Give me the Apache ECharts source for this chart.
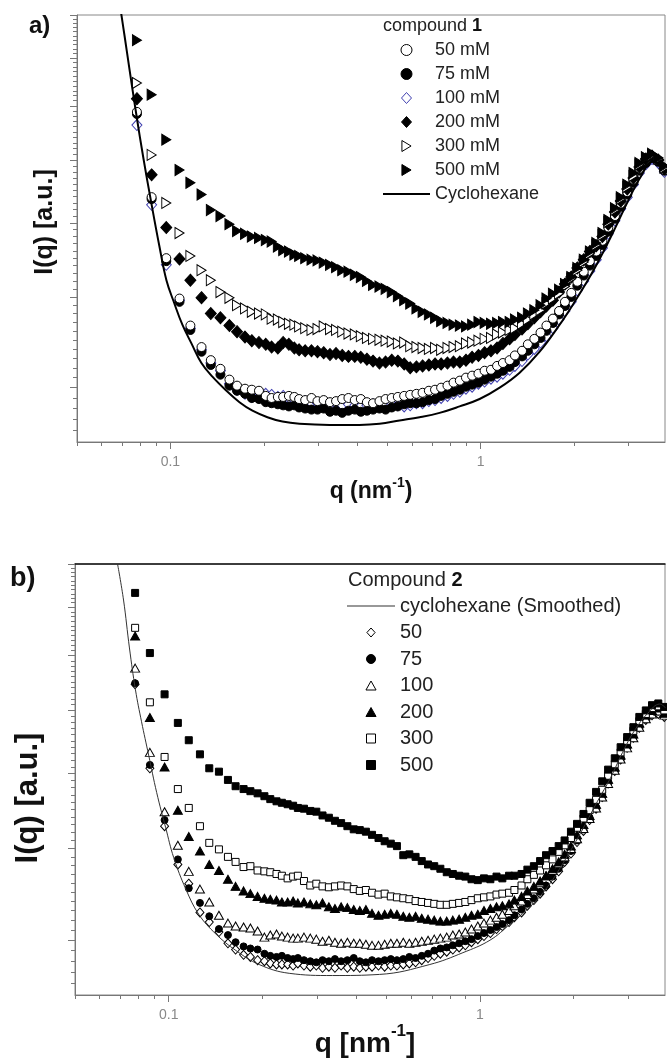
<!DOCTYPE html>
<html>
<head>
<meta charset="utf-8">
<script src="https://cdn.jsdelivr.net/npm/echarts@6/dist/echarts.min.js"></script>
<style>
html, body { margin: 0; padding: 0; background: #fff; }
#chart { width: 667px; height: 1061px; }
</style>
</head>
<body>
<div id="chart"></div>
<script>
// q grid shared by all measured curves (nm^-1)
var qGrid = [0.078, 0.087, 0.097, 0.107, 0.116, 0.126, 0.135, 0.145, 0.155, 0.164, 0.174, 0.183, 0.193, 0.203, 0.212, 0.222, 0.231, 0.241, 0.251, 0.26,
  0.272, 0.285, 0.298, 0.312, 0.327, 0.342, 0.358, 0.375, 0.393, 0.411, 0.43, 0.45, 0.472, 0.494, 0.517, 0.541, 0.567, 0.593, 0.621, 0.65,
  0.681, 0.713, 0.746, 0.782, 0.818, 0.857, 0.897, 0.939, 0.984, 1.03, 1.08, 1.13, 1.18, 1.24, 1.29, 1.36, 1.42, 1.49, 1.56, 1.63,
  1.71, 1.79, 1.87, 1.96, 2.05, 2.15, 2.25, 2.36, 2.47, 2.58, 2.71, 2.83, 2.97, 3.11, 3.25, 3.41, 3.57, 3.74, 3.91];

// panel a : compound 1
var a50 = [7.88, 6.39, 5.50, 4.98, 4.66, 4.42, 4.28, 4.19, 4.08, 4.02, 3.99, 3.98, 3.97, 3.92, 3.90, 3.91, 3.91, 3.92, 3.91, 3.89,
  3.88, 3.90, 3.87, 3.88, 3.86, 3.87, 3.89, 3.90, 3.88, 3.89, 3.86, 3.85, 3.87, 3.89, 3.90, 3.91, 3.92, 3.93, 3.94, 3.95,
  3.97, 3.98, 4.00, 4.02, 4.05, 4.07, 4.10, 4.12, 4.14, 4.17, 4.18, 4.22, 4.25, 4.28, 4.33, 4.38, 4.45, 4.51, 4.58, 4.66,
  4.74, 4.83, 4.94, 5.05, 5.19, 5.32, 5.46, 5.59, 5.74, 5.93, 6.10, 6.29, 6.47, 6.67, 6.85, 6.99, 7.05, 6.99, 6.83];
var a75 = [7.84, 6.36, 5.46, 4.94, 4.61, 4.37, 4.23, 4.13, 4.02, 3.97, 3.94, 3.90, 3.89, 3.86, 3.85, 3.84, 3.83, 3.82, 3.83, 3.81,
  3.80, 3.79, 3.79, 3.80, 3.77, 3.78, 3.76, 3.78, 3.79, 3.77, 3.78, 3.79, 3.80, 3.79, 3.81, 3.82, 3.84, 3.85, 3.85, 3.86,
  3.88, 3.89, 3.92, 3.94, 3.96, 3.98, 4.01, 4.03, 4.05, 4.08, 4.11, 4.14, 4.17, 4.21, 4.26, 4.32, 4.38, 4.45, 4.52, 4.60,
  4.69, 4.79, 4.89, 5.00, 5.14, 5.27, 5.40, 5.53, 5.68, 5.87, 6.06, 6.24, 6.43, 6.62, 6.82, 6.95, 7.04, 6.97, 6.82];
var a100 = [7.63, 6.27, 5.41, 4.96, 4.63, 4.39, 4.25, 4.17, 4.04, 3.98, 3.94, 3.91, 3.92, 3.94, 3.93, 3.91, 3.92, 3.90, 3.88, 3.86,
  3.87, 3.85, 3.85, 3.86, 3.84, 3.85, 3.83, 3.84, 3.83, 3.82, 3.83, 3.84, 3.82, 3.83, 3.84, 3.83, 3.82, 3.83, 3.85, 3.85,
  3.87, 3.88, 3.90, 3.92, 3.94, 3.96, 3.99, 4.01, 4.04, 4.06, 4.09, 4.11, 4.14, 4.18, 4.22, 4.27, 4.34, 4.40, 4.47, 4.54,
  4.63, 4.73, 4.83, 4.94, 5.08, 5.20, 5.33, 5.48, 5.64, 5.84, 6.03, 6.21, 6.39, 6.59, 6.78, 6.93, 7.02, 6.95, 6.80];
var a200 = [8.14, 6.75, 5.93, 5.49, 5.21, 4.99, 4.80, 4.75, 4.66, 4.59, 4.53, 4.49, 4.47, 4.45, 4.42, 4.41, 4.47, 4.45, 4.41, 4.39,
  4.38, 4.38, 4.37, 4.36, 4.34, 4.35, 4.33, 4.32, 4.32, 4.31, 4.29, 4.27, 4.25, 4.26, 4.28, 4.27, 4.24, 4.20, 4.21, 4.22,
  4.23, 4.24, 4.24, 4.25, 4.26, 4.26, 4.28, 4.31, 4.33, 4.36, 4.38, 4.41, 4.46, 4.51, 4.56, 4.62, 4.68, 4.75, 4.82, 4.89,
  4.96, 5.06, 5.16, 5.25, 5.37, 5.48, 5.59, 5.67, 5.80, 5.98, 6.16, 6.33, 6.52, 6.70, 6.88, 7.02, 7.07, 7.00, 6.85];
var a300 = [8.46, 7.09, 6.30, 5.85, 5.53, 5.34, 5.21, 5.06, 4.99, 4.90, 4.86, 4.82, 4.80, 4.79, 4.74, 4.73, 4.70, 4.68, 4.67, 4.65,
  4.63, 4.61, 4.62, 4.65, 4.62, 4.61, 4.59, 4.57, 4.56, 4.54, 4.52, 4.51, 4.50, 4.49, 4.48, 4.46, 4.47, 4.43, 4.42, 4.41,
  4.40, 4.41, 4.39, 4.41, 4.42, 4.43, 4.46, 4.47, 4.49, 4.51, 4.52, 4.56, 4.58, 4.61, 4.63, 4.68, 4.73, 4.79, 4.84, 4.92,
  4.98, 5.04, 5.13, 5.23, 5.34, 5.45, 5.56, 5.68, 5.82, 6.01, 6.19, 6.36, 6.55, 6.73, 6.92, 7.04, 7.09, 7.02, 6.87];
var a500 = [9.40, 8.22, 7.36, 6.83, 6.62, 6.43, 6.19, 6.10, 5.98, 5.88, 5.84, 5.80, 5.78, 5.75, 5.73, 5.66, 5.61, 5.59, 5.55, 5.53,
  5.50, 5.48, 5.47, 5.44, 5.41, 5.38, 5.34, 5.32, 5.28, 5.25, 5.20, 5.15, 5.13, 5.10, 5.06, 5.01, 4.96, 4.92, 4.86, 4.82,
  4.79, 4.75, 4.71, 4.69, 4.67, 4.66, 4.65, 4.67, 4.70, 4.69, 4.68, 4.69, 4.70, 4.70, 4.73, 4.75, 4.80, 4.84, 4.90, 4.98,
  5.04, 5.09, 5.16, 5.25, 5.37, 5.48, 5.59, 5.71, 5.85, 6.04, 6.22, 6.39, 6.59, 6.78, 6.95, 7.05, 7.11, 7.04, 6.90];
var qLineA = [0.069, 0.0711, 0.0737, 0.0777, 0.0818, 0.0868, 0.0922, 0.0971, 0.103, 0.1093, 0.1169, 0.1259, 0.1366, 0.1516, 0.167, 0.1839,
  0.2055, 0.2298, 0.2607, 0.326, 0.407, 0.4723, 0.548, 0.6357, 0.7375, 0.8556, 0.9926, 1.152, 1.336, 1.55, 1.798, 2.01,
  2.247, 2.475, 2.726, 2.98, 3.282, 3.587, 3.923];
var iLineA = [10.17, 9.52, 8.78, 7.82, 7.04, 6.30, 5.66, 5.21, 4.92, 4.67, 4.46, 4.25, 4.11, 3.97, 3.86, 3.78,
  3.72, 3.68, 3.66, 3.65, 3.65, 3.66, 3.69, 3.72, 3.76, 3.82, 3.89, 4.00, 4.15, 4.37, 4.67, 4.94,
  5.25, 5.57, 5.94, 6.32, 6.72, 6.97, 6.88];

// panel b : compound 2
var b50 = [7.46, 6.08, 5.28, 4.81, 4.59, 4.28, 4.18, 4.08, 3.97, 3.91, 3.86, 3.84, 3.81, 3.80, 3.78, 3.77, 3.77, 3.77, 3.76, 3.78,
  3.76, 3.75, 3.76, 3.74, 3.75, 3.74, 3.76, 3.74, 3.75, 3.74, 3.75, 3.75, 3.76, 3.75, 3.76, 3.76, 3.77, 3.78, 3.79, 3.81,
  3.83, 3.85, 3.87, 3.89, 3.91, 3.93, 3.95, 3.98, 4.01, 4.04, 4.07, 4.11, 4.14, 4.18, 4.23, 4.28, 4.35, 4.41, 4.48, 4.56,
  4.64, 4.73, 4.84, 4.94, 5.08, 5.22, 5.36, 5.51, 5.67, 5.86, 6.04, 6.21, 6.39, 6.55, 6.71, 6.84, 6.92, 6.94, 6.89];
var b75 = [7.48, 6.13, 5.36, 4.87, 4.54, 4.38, 4.24, 4.11, 4.05, 3.98, 3.94, 3.92, 3.91, 3.87, 3.85, 3.84, 3.85, 3.83, 3.82, 3.83,
  3.81, 3.80, 3.79, 3.81, 3.80, 3.82, 3.80, 3.81, 3.83, 3.80, 3.79, 3.81, 3.80, 3.81, 3.82, 3.81, 3.82, 3.84, 3.83, 3.85,
  3.87, 3.90, 3.92, 3.93, 3.95, 3.97, 3.99, 4.01, 4.04, 4.07, 4.10, 4.13, 4.16, 4.20, 4.25, 4.31, 4.37, 4.43, 4.50, 4.57,
  4.67, 4.76, 4.86, 4.97, 5.10, 5.24, 5.39, 5.53, 5.70, 5.89, 6.06, 6.25, 6.42, 6.58, 6.74, 6.88, 6.94, 6.98, 6.92];
var b100 = [7.76, 6.32, 5.47, 5.04, 4.73, 4.53, 4.39, 4.25, 4.17, 4.14, 4.13, 4.12, 4.09, 4.03, 4.05, 4.06, 4.04, 4.03, 4.02, 4.02,
  4.03, 4.02, 4.01, 3.99, 4.00, 3.98, 3.97, 3.98, 3.97, 3.97, 3.96, 3.95, 3.95, 3.96, 3.97, 3.97, 3.98, 3.97, 3.98, 3.99,
  4.00, 4.01, 4.02, 4.03, 4.05, 4.06, 4.08, 4.11, 4.14, 4.17, 4.20, 4.23, 4.26, 4.30, 4.35, 4.40, 4.47, 4.53, 4.60, 4.68,
  4.74, 4.82, 4.90, 5.00, 5.12, 5.25, 5.38, 5.52, 5.67, 5.86, 6.05, 6.22, 6.39, 6.55, 6.72, 6.86, 6.94, 6.99, 6.92];
var b200 = [8.39, 6.88, 6.10, 5.49, 5.15, 4.97, 4.81, 4.74, 4.64, 4.56, 4.51, 4.48, 4.45, 4.43, 4.42, 4.41, 4.39, 4.39, 4.40, 4.38,
  4.39, 4.37, 4.36, 4.38, 4.34, 4.32, 4.34, 4.33, 4.31, 4.30, 4.31, 4.27, 4.25, 4.26, 4.27, 4.26, 4.24, 4.23, 4.24, 4.22,
  4.21, 4.20, 4.19, 4.19, 4.20, 4.21, 4.23, 4.25, 4.26, 4.30, 4.32, 4.34, 4.35, 4.37, 4.41, 4.45, 4.51, 4.56, 4.62, 4.68,
  4.76, 4.84, 4.93, 5.03, 5.17, 5.30, 5.42, 5.57, 5.72, 5.92, 6.10, 6.28, 6.45, 6.61, 6.79, 6.92, 7.00, 7.04, 6.95];
var b300 = [8.56, 7.14, 6.25, 5.78, 5.52, 5.28, 5.07, 4.99, 4.90, 4.84, 4.78, 4.79, 4.74, 4.73, 4.72, 4.70, 4.68, 4.65, 4.67, 4.68,
  4.62, 4.57, 4.59, 4.56, 4.55, 4.56, 4.57, 4.56, 4.53, 4.51, 4.52, 4.49, 4.47, 4.48, 4.45, 4.44, 4.43, 4.42, 4.40, 4.39,
  4.38, 4.37, 4.36, 4.36, 4.37, 4.38, 4.39, 4.41, 4.43, 4.44, 4.45, 4.47, 4.48, 4.49, 4.52, 4.57, 4.64, 4.69, 4.74, 4.80,
  4.87, 4.96, 5.04, 5.13, 5.26, 5.38, 5.49, 5.63, 5.77, 5.97, 6.14, 6.32, 6.50, 6.66, 6.82, 6.94, 7.04, 7.07, 7.00];
var b500 = [9.32, 8.05, 7.28, 6.79, 6.51, 6.29, 6.08, 6.03, 5.91, 5.82, 5.78, 5.75, 5.72, 5.68, 5.64, 5.61, 5.59, 5.57, 5.55, 5.52,
  5.51, 5.48, 5.47, 5.42, 5.39, 5.35, 5.32, 5.28, 5.24, 5.23, 5.21, 5.17, 5.13, 5.09, 5.06, 5.03, 4.92, 4.93, 4.90, 4.85,
  4.81, 4.79, 4.76, 4.72, 4.70, 4.68, 4.67, 4.64, 4.63, 4.65, 4.64, 4.67, 4.65, 4.68, 4.68, 4.70, 4.75, 4.79, 4.85, 4.92,
  4.97, 5.03, 5.10, 5.21, 5.31, 5.44, 5.59, 5.74, 5.89, 6.06, 6.23, 6.40, 6.56, 6.72, 6.89, 7.00, 7.09, 7.12, 7.06];
var qLineB = [0.0685, 0.0716, 0.0748, 0.0782, 0.0818, 0.0862, 0.0915, 0.0978, 0.1038, 0.1135, 0.1249, 0.1418, 0.1645, 0.1951, 0.2438, 0.3357,
  0.4758, 0.69, 0.8814, 1.077, 1.25, 1.45, 1.645, 1.852, 2.102, 2.385, 2.627, 2.871, 3.14, 3.457, 3.779, 3.953];
var iLineB = [10.0, 9.16, 8.15, 7.36, 6.81, 6.28, 5.73, 5.26, 4.89, 4.53, 4.26, 4.06, 3.90, 3.77, 3.69, 3.67,
  3.68, 3.77, 3.88, 4.00, 4.16, 4.34, 4.55, 4.83, 5.19, 5.61, 5.94, 6.32, 6.67, 6.95, 7.11, 7.04];

// ticks
var xMajorTicks = [0.1, 1];
var xMinorTicks = [0.05, 0.06, 0.07, 0.08, 0.09, 0.2, 0.3, 0.4, 0.5, 0.6, 0.7, 0.8, 0.9, 2, 3];
var yMajorTicks = [4, 5, 6, 7, 8, 9, 10];
var yMinorTicks = [];
for (var t = 36; t < 100; t++) { if (t % 10 !== 0) yMinorTicks.push(t / 10); }

var legendA = ['50 mM', '75 mM', '100 mM', '200 mM', '300 mM', '500 mM', 'Cyclohexane'];
var legendB = ['cyclohexane (Smoothed)', '50', '75', '100', '200', '300', '500'];

var FONT = '"Liberation Sans", Arial, sans-serif';
var RTRI = 'path://M0,0L10,6L0,12Z';
var DIAM = 'path://M5,0L10,5.5L5,11L0,5.5Z';
var UTRI = 'path://M4.5,0L9,8L0,8Z';
var SQR = 'path://M0,0H7V7H0Z';

function pairs(qs, vals) {
  return qs.map(function (q, i) { return [q, vals[i]]; });
}

function xAxisMajor(gi) {
  return {
    type: 'log', logBase: 10, gridIndex: gi, position: 'bottom', min: 0.05, max: 3.93,
    axisLine: { show: true, lineStyle: { color: '#777', width: 1 } },
    axisTick: { show: true, customValues: xMajorTicks, length: 7, lineStyle: { color: '#777' } },
    axisLabel: { show: true, customValues: xMajorTicks, margin: 13, color: '#888', fontSize: 14, fontFamily: FONT,
      formatter: function (v) { return String(v); } },
    splitLine: { show: false }
  };
}
function xAxisMinor(gi) {
  return {
    type: 'log', logBase: 10, gridIndex: gi, position: 'bottom', min: 0.05, max: 3.93,
    axisLine: { show: false },
    axisTick: { show: true, customValues: xMinorTicks, length: 4, lineStyle: { color: '#777' } },
    axisLabel: { show: false },
    splitLine: { show: false }
  };
}
function yAxisMajor(gi) {
  return {
    type: 'log', logBase: 10, gridIndex: gi, position: 'left', min: 3.5, max: 10,
    axisLine: { show: true, lineStyle: { color: '#777', width: 1 } },
    axisTick: { show: true, customValues: yMajorTicks, length: 7, lineStyle: { color: '#777' } },
    axisLabel: { show: false },
    splitLine: { show: false }
  };
}
function yAxisMinor(gi) {
  return {
    type: 'log', logBase: 10, gridIndex: gi, position: 'left', min: 3.5, max: 10,
    axisLine: { show: false },
    axisTick: { show: true, customValues: yMinorTicks, length: 4, lineStyle: { color: '#777' } },
    axisLabel: { show: false },
    splitLine: { show: false }
  };
}

function scatter(name, axis, vals, symbol, size, fill, stroke) {
  return {
    name: name, type: 'scatter', xAxisIndex: axis, yAxisIndex: axis,
    data: pairs(qGrid, vals), symbol: symbol, symbolSize: size,
    itemStyle: { color: fill, borderColor: stroke, borderWidth: 1, opacity: 1 },
    emphasis: { disabled: true }, silent: true
  };
}
function curve(name, axis, qs, vals, width, color) {
  return {
    name: name, type: 'line', xAxisIndex: axis, yAxisIndex: axis,
    data: pairs(qs, vals), smooth: 0.4, symbol: 'none', showSymbol: false,
    color: color, lineStyle: { color: color, width: width },
    emphasis: { disabled: true }, silent: true, clip: true
  };
}

var chart = echarts.init(document.getElementById('chart'));
var option = {
  animation: false,
  backgroundColor: '#fff',
  grid: [
    { left: 77, top: 15, width: 588, height: 427, show: true, borderColor: '#888', borderWidth: 1 },
    { left: 75, top: 564, width: 590, height: 431, show: true, borderColor: '#888', borderWidth: 1 }
  ],
  xAxis: [
    xAxisMajor(0), xAxisMinor(0), xAxisMajor(1), xAxisMinor(1),
    { type: 'log', gridIndex: 1, position: 'top', min: 0.05, max: 3.93,
      axisLine: { show: true, lineStyle: { color: '#111', width: 1.5 } },
      axisTick: { show: false }, axisLabel: { show: false }, splitLine: { show: false } }
  ],
  yAxis: [yAxisMajor(0), yAxisMinor(0), yAxisMajor(1), yAxisMinor(1)],
  legend: [
    {
      orient: 'vertical', left: 383, top: 41, padding: 0, itemWidth: 47, itemHeight: 11, itemGap: 6,
      selectedMode: false, itemStyle: { borderWidth: 1 }, symbolKeepAspect: true,
      textStyle: { fontSize: 18, lineHeight: 18, color: '#222', fontFamily: FONT },
      data: legendA.map(function (n) {
        return n === 'Cyclohexane' ? { name: n, icon: 'path://M0,0H48V2H0Z', itemStyle: { borderWidth: 0 } } : { name: n };
      })
    },
    {
      orient: 'vertical', left: 347, top: 596, padding: 0, itemWidth: 48, itemHeight: 9, itemGap: 6.5,
      selectedMode: false, itemStyle: { borderWidth: 1 }, symbolKeepAspect: true,
      textStyle: { fontSize: 20, lineHeight: 20, color: '#222', fontFamily: FONT },
      data: legendB.map(function (n) {
        return n === 'cyclohexane (Smoothed)' ? { name: n, icon: 'path://M0,0H48V1H0Z', itemStyle: { borderWidth: 0 } } : { name: n };
      })
    }
  ],
  graphic: [
    { type: 'text', left: 29, top: 14, style: { text: 'a)', fontSize: 24, fontWeight: 'bold', fontFamily: FONT, fill: '#111' } },
    { type: 'text', left: 10, top: 565, style: { text: 'b)', fontSize: 27, fontWeight: 'bold', fontFamily: FONT, fill: '#111' } },
    { type: 'text', left: 383, top: 17, style: { text: '{n|compound }{b|1}', rich: {
      n: { fontSize: 18, fontFamily: FONT, fill: '#222' },
      b: { fontSize: 18, fontWeight: 'bold', fontFamily: FONT, fill: '#111' } } } },
    { type: 'text', left: 348, top: 570, style: { text: '{n|Compound }{b|2}', rich: {
      n: { fontSize: 20, fontFamily: FONT, fill: '#222' },
      b: { fontSize: 20, fontWeight: 'bold', fontFamily: FONT, fill: '#111' } } } },
    { type: 'text', x: 45, y: 222, rotation: Math.PI / 2, style: { text: 'I(q) [a.u.]', fontSize: 25, fontWeight: 'bold',
      fontFamily: FONT, fill: '#111', align: 'center', verticalAlign: 'middle' } },
    { type: 'text', x: 28, y: 798, rotation: Math.PI / 2, style: { text: 'I(q) [a.u.]', fontSize: 31, fontWeight: 'bold',
      fontFamily: FONT, fill: '#111', align: 'center', verticalAlign: 'middle' } },
    { type: 'text', x: 371, y: 492, style: { text: '{n|q (nm}{s|-1}{n|)}', align: 'center', verticalAlign: 'middle', rich: {
      n: { fontSize: 23, fontWeight: 'bold', lineHeight: 32, fontFamily: FONT, fill: '#111' },
      s: { fontSize: 14, fontWeight: 'bold', lineHeight: 14, verticalAlign: 'top', fontFamily: FONT, fill: '#111' } } } },
    { type: 'text', x: 365, y: 1044, style: { text: '{n|q [nm}{s|-1}{n|]}', align: 'center', verticalAlign: 'middle', rich: {
      n: { fontSize: 28, fontWeight: 'bold', lineHeight: 42, fontFamily: FONT, fill: '#111' },
      s: { fontSize: 17, fontWeight: 'bold', lineHeight: 17, verticalAlign: 'top', fontFamily: FONT, fill: '#111' } } } }
  ],
  series: [
    curve('Cyclohexane', 0, qLineA, iLineA, 2, '#000'),
    scatter('100 mM', 0, a100, DIAM, [10, 11], '#fff', '#4040b0'),
    scatter('75 mM', 0, a75, 'circle', 9, '#000', '#000'),
    scatter('50 mM', 0, a50, 'circle', 9, '#fff', '#000'),
    scatter('200 mM', 0, a200, DIAM, [11, 12], '#000', '#000'),
    scatter('300 mM', 0, a300, RTRI, [9, 11], '#fff', '#000'),
    scatter('500 mM', 0, a500, RTRI, [9, 11], '#000', '#000'),

    curve('cyclohexane (Smoothed)', 2, qLineB, iLineB, 1, '#333'),
    scatter('50', 2, b50, DIAM, [8, 9], '#fff', '#000'),
    scatter('75', 2, b75, 'circle', 7, '#000', '#000'),
    scatter('100', 2, b100, UTRI, [9, 8], '#fff', '#000'),
    scatter('200', 2, b200, UTRI, [9, 8], '#000', '#000'),
    scatter('300', 2, b300, SQR, 7, '#fff', '#000'),
    scatter('500', 2, b500, SQR, 7, '#000', '#000')
  ]
};
chart.setOption(option);
</script>
</body>
</html>
